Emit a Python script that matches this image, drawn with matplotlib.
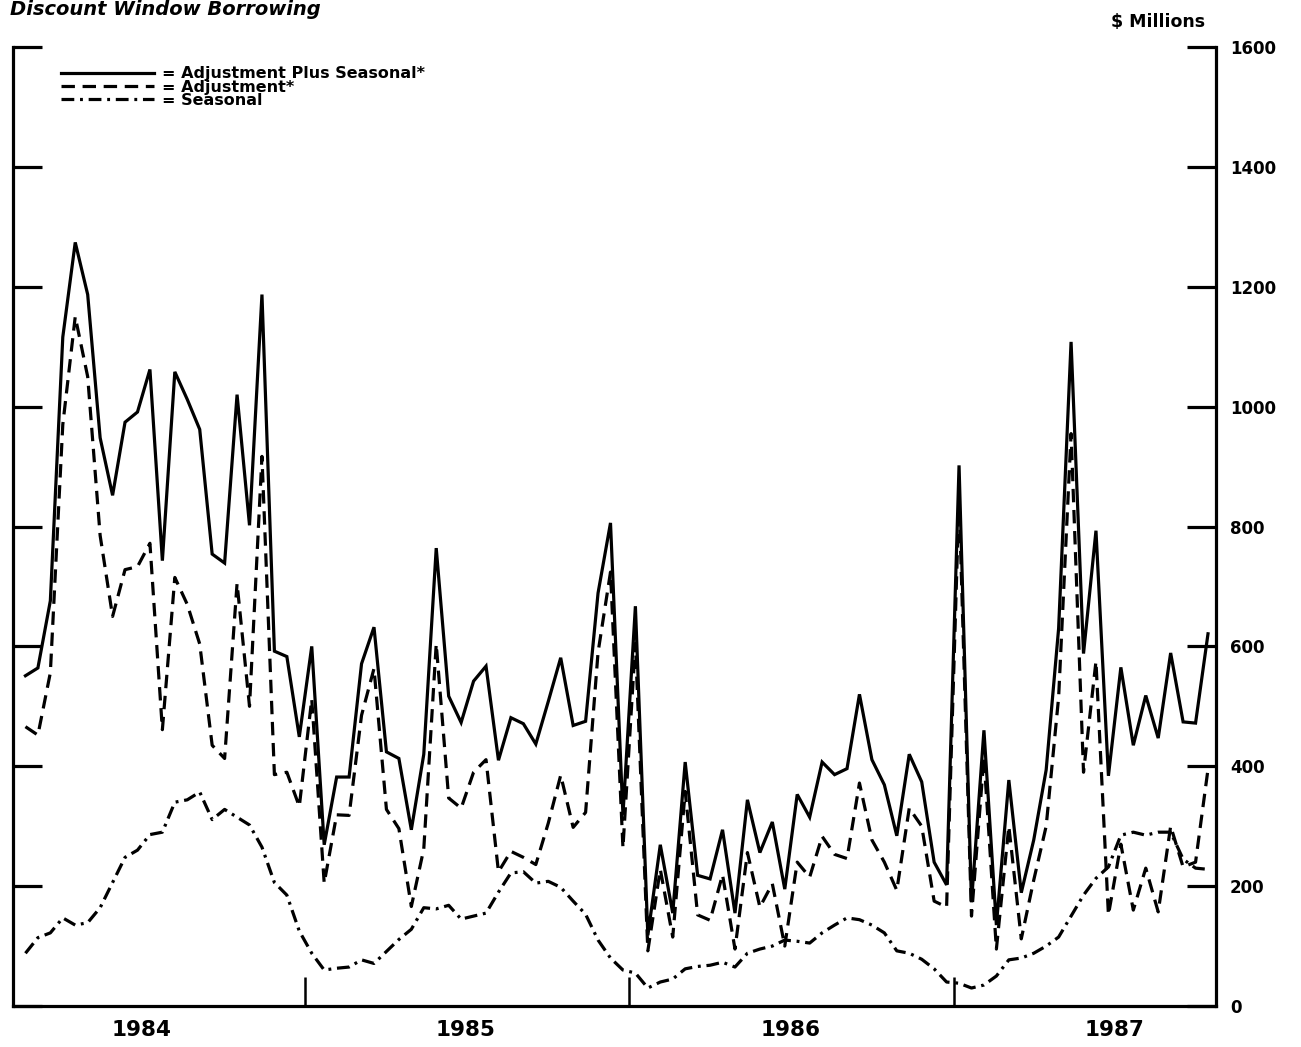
import matplotlib
matplotlib.use("Agg")
import matplotlib.pyplot as plt
import pandas as pd

# biweekly reserve maintenance periods
dates = pd.date_range("1984-02-22", periods=96, freq="14D")

# $ millions
adj_plus_seas = [551, 564, 676, 1116, 1274, 1187, 948, 852, 974, 991, 1062, 743,
                 1058, 1012, 962, 754, 739, 1020, 802, 1187, 592, 583, 449, 600,
                 269, 382, 382, 571, 632, 424, 413, 294, 420, 764, 517, 473,
                 542, 567, 410, 481, 471, 437, 508, 581, 468, 475, 689, 806,
                 319, 667, 118, 269, 155, 407, 218, 212, 294, 155, 344, 256,
                 307, 195, 353, 315, 407, 386, 396, 520, 411, 369, 284, 420,
                 374, 240, 202, 902, 173, 460, 135, 377, 189, 277, 394, 630,
                 1108, 588, 793, 384, 565, 435, 518, 447, 589, 474, 472, 621]

adjustment = [466, 452, 556, 970, 1150, 1050, 785, 650, 728, 733, 772, 461,
              715, 670, 604, 435, 413, 705, 500, 917, 386, 390, 333, 512,
              205, 319, 318, 485, 563, 328, 296, 166, 262, 604, 347, 330,
              390, 411, 224, 258, 248, 236, 305, 385, 298, 323, 590, 724,
              264, 605, 92, 228, 115, 358, 152, 143, 219, 95, 256, 165,
              204, 100, 240, 215, 283, 253, 246, 372, 277, 240, 193, 330,
              300, 175, 165, 850, 150, 415, 95, 300, 112, 210, 300, 515,
              955, 390, 575, 152, 270, 160, 230, 157, 300, 232, 240, 395]

seasonal = [88, 114, 122, 147, 135, 139, 164, 206, 248, 260, 286, 290,
            340, 344, 357, 311, 328, 315, 302, 265, 206, 185, 125, 88,
            60, 63, 65, 77, 71, 91, 111, 128, 164, 162, 168, 145,
            150, 155, 190, 222, 224, 205, 208, 198, 175, 153, 110, 80,
            60, 55, 30, 40, 45, 62, 66, 68, 73, 65, 88, 95,
            100, 110, 108, 105, 122, 135, 147, 144, 135, 122, 92, 88,
            78, 62, 40, 38, 30, 35, 50, 77, 80, 88, 100, 115,
            150, 185, 213, 232, 285, 290, 285, 290, 290, 245, 230, 228]

years = ["1984", "1985", "1986", "1987"]
yticks = [0, 200, 400, 600, 800, 1000, 1200, 1400, 1600]

plt.rcParams["font.family"] = "DejaVu Sans"
plt.rcParams["font.weight"] = "bold"

fig = plt.figure(figsize=(13.01, 10.47), dpi=100)
ax = fig.add_axes([13/1301, 41/1047, 1203/1301, 959/1047])

lw = 2.3
ax.plot(dates, adj_plus_seas, color="black", lw=lw, solid_joinstyle="miter",
        label="= Adjustment Plus Seasonal*")
ax.plot(dates, adjustment, color="black", lw=lw, linestyle=(0, (4.2, 2.4)),
        label="= Adjustment*")
ax.plot(dates, seasonal, color="black", lw=lw, linestyle=(0, (4.0, 1.8, 0.9, 1.8)),
        label="= Seasonal")

ax.set_xlim(pd.Timestamp("1984-02-08"), pd.Timestamp("1987-10-23"))
ax.set_ylim(0, 1600)

for s in ["left", "right", "bottom"]:
    ax.spines[s].set_linewidth(2.3)
ax.spines["top"].set_visible(False)

ax.set_yticks(yticks)
ax.set_yticklabels([str(v) for v in yticks])
ax.tick_params(axis="y", direction="in", length=21, width=2.3,
               left=True, right=True, labelleft=False, labelright=True,
               labelsize=12, pad=10)

# year boundaries as ticks, year names centred in each year
ax.set_xticks([pd.Timestamp(y + "-01-01") for y in years[1:]])
ax.set_xticklabels([])
ax.set_xticks([pd.Timestamp(y + "-07-01") for y in years], minor=True)
ax.set_xticklabels(years, minor=True)
ax.tick_params(axis="x", which="major", direction="in", length=21, width=1.8)
ax.tick_params(axis="x", which="minor", length=0, labelsize=15.5, pad=10)

ax.legend(loc="upper left", bbox_to_anchor=(0.040, 0.980), frameon=False,
          borderpad=0, borderaxespad=0, handlelength=5.8, handletextpad=0.5,
          labelspacing=-0.1, prop={"size": 11.5, "weight": "bold"})

fig.text(1205/1301, 1 - 22/1047, "$ Millions", ha="right", va="center",
         fontsize=12.5, fontweight="bold")
fig.text(10/1301, 1 - 15/1047, "Discount Window Borrowing", ha="left",
         va="baseline", fontsize=14, fontweight="bold", fontstyle="italic")

fig.savefig("out.png", dpi=100)
